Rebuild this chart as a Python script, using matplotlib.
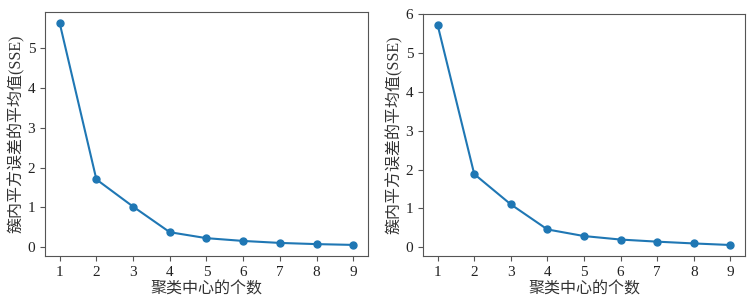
import matplotlib
matplotlib.use("Agg")
import matplotlib.pyplot as plt

plt.rcParams['font.family'] = ['Liberation Serif', 'Noto Sans CJK SC']
plt.rcParams['axes.unicode_minus'] = False

k = [1, 2, 3, 4, 5, 6, 7, 8, 9]
sse_left = [5.64, 1.70, 1.015, 0.37, 0.22, 0.15, 0.10, 0.07, 0.05]
sse_right = [5.72, 1.885, 1.105, 0.46, 0.29, 0.20, 0.146, 0.10, 0.06]

xlabel = "聚类中心的个数"
ylabel = "簇内平方误差的平均值(SSE)"

fig = plt.figure(figsize=(7.49, 2.98), dpi=100)
ax1 = fig.add_axes([45 / 749, 1 - 256 / 298, 323 / 749, 244 / 298])
ax2 = fig.add_axes([423 / 749, 1 - 256 / 298, 322 / 749, 242 / 298])

for ax, sse in [(ax1, sse_left), (ax2, sse_right)]:
    ax.plot(k, sse, color="#1f77b4", marker="o", markersize=5, linewidth=1.5)
    ax.set_xticks(k)
    ax.set_xlabel(xlabel, fontsize=11.5, labelpad=2, color="#333333")
    ax.set_ylabel(ylabel, fontsize=11.5, labelpad=2, color="#333333")
    ax.tick_params(labelsize=11, colors="#555555", labelcolor="#222222")
    for s in ax.spines.values():
        s.set_color("#555555")

ax2.set_yticks([0, 1, 2, 3, 4, 5, 6])

fig.savefig("out.png", dpi=100)
